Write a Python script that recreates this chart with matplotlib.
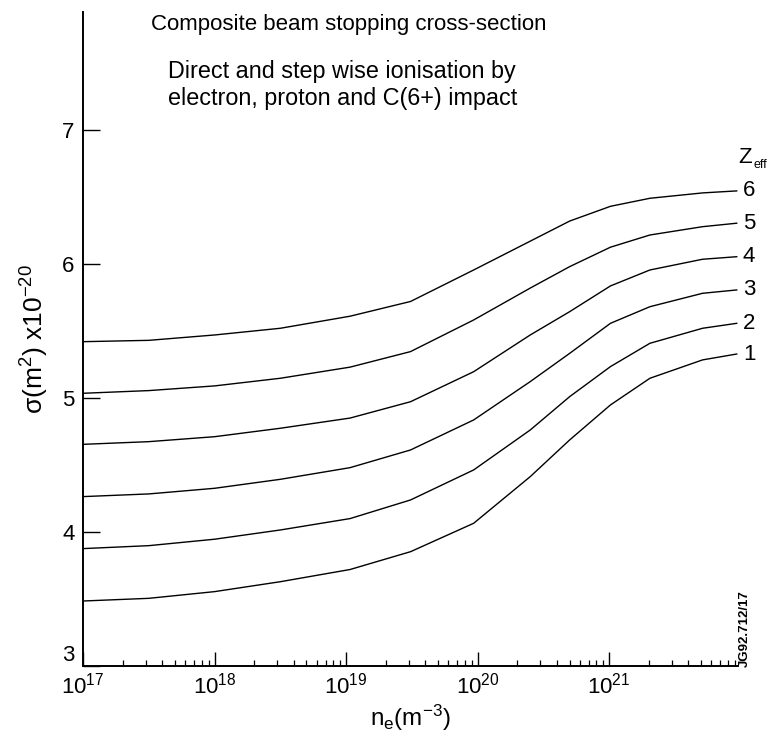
import matplotlib
matplotlib.use('Agg')
import matplotlib.pyplot as plt
import numpy as np
from matplotlib.ticker import LogLocator, NullFormatter

plt.rcParams['font.family'] = ['Liberation Sans', 'DejaVu Sans']
plt.rcParams['mathtext.fontset'] = 'custom'
plt.rcParams['mathtext.rm'] = 'Liberation Sans'
plt.rcParams['mathtext.it'] = 'Liberation Sans:italic'
plt.rcParams['mathtext.bf'] = 'Liberation Sans:bold'

# electron density, log10(m^-3)
log_ne = [17.0, 17.5, 18.0, 18.5, 19.03, 19.49, 19.97, 20.40, 20.70, 21.01, 21.31, 21.71, 21.97]

# stopping cross-section (x1e-20 m^2) for each Zeff
zeff = [6, 5, 4, 3, 2, 1]
sigma_z6 = [5.42, 5.43, 5.47, 5.52, 5.61, 5.72, 5.955, 6.17, 6.32, 6.43, 6.49, 6.53, 6.545]
sigma_z5 = [5.035, 5.055, 5.09, 5.147, 5.23, 5.346, 5.582, 5.82, 5.98, 6.125, 6.216, 6.278, 6.304]
sigma_z4 = [4.654, 4.674, 4.711, 4.774, 4.85, 4.972, 5.196, 5.47, 5.644, 5.836, 5.955, 6.035, 6.054]
sigma_z3 = [4.264, 4.284, 4.326, 4.393, 4.48, 4.612, 4.836, 5.122, 5.333, 5.557, 5.681, 5.781, 5.806]
sigma_z2 = [3.876, 3.898, 3.946, 4.015, 4.10, 4.239, 4.463, 4.761, 5.010, 5.234, 5.408, 5.520, 5.557]
sigma_z1 = [3.485, 3.505, 3.555, 3.629, 3.72, 3.853, 4.065, 4.413, 4.687, 4.948, 5.147, 5.284, 5.328]
curves = [sigma_z6, sigma_z5, sigma_z4, sigma_z3, sigma_z2, sigma_z1]

y_ticks = [3, 4, 5, 6, 7]

fig = plt.figure(figsize=(7.81, 7.49), dpi=100)
ax = fig.add_axes([0.1063, 0.1108, 0.8387, 0.8732])

ne = 10.0 ** np.array(log_ne)
for z, sig in zip(zeff, curves):
    ax.plot(ne, sig, color='black', lw=1.0)
    ax.annotate(str(z), xy=(ne[-1], sig[-1]), xytext=(4.5, 0),
                textcoords='offset points', va='center', ha='left', fontsize=16)

# Zeff header above the curve labels
ax.text(1.0, 0.778, 'Z', transform=ax.transAxes, ha='left', va='center', fontsize=16)
ax.text(1.0235, 0.766, 'eff', transform=ax.transAxes, ha='left', va='center', fontsize=9)

ax.set_xscale('log')
ax.set_xlim(1e17, 10 ** 21.98)
ax.set_ylim(3, 7.88)
ax.set_yticks(y_ticks)
ax.set_yticklabels([str(t) for t in y_ticks])
ax.get_yticklabels()[0].set_va('bottom')

ax.xaxis.set_minor_locator(LogLocator(base=10, subs=np.arange(2, 10), numticks=20))
ax.xaxis.set_minor_formatter(NullFormatter())

for side in ['top', 'right']:
    ax.spines[side].set_visible(False)
for side in ['left', 'bottom']:
    ax.spines[side].set_linewidth(1.4)

ax.tick_params(axis='x', which='major', direction='in', length=10, width=1.0,
               labelsize=16, pad=5)
ax.tick_params(axis='x', which='minor', direction='in', length=4, width=0.9)
ax.tick_params(axis='y', which='major', direction='in', length=12, width=1.0,
               labelsize=16, pad=6)

ax.set_xlabel('n$_\\mathregular{e}$(m$^{\\mathregular{-3}}$)', fontsize=17.5, labelpad=3)
ax.set_ylabel('σ(m$^{\\mathregular{2}}$) x10$^{\\mathregular{-20}}$', fontsize=19, labelpad=8)

fig.text(0.446, 0.967, 'Composite beam stopping cross-section',
         ha='center', va='center', fontsize=16)
fig.text(0.215, 0.904, 'Direct and step wise ionisation by',
         ha='left', va='center', fontsize=16.8)
fig.text(0.215, 0.869, 'electron, proton and C(6+) impact',
         ha='left', va='center', fontsize=16.8)

fig.text(0.954, 0.109, 'JG92.712/17', rotation=90, ha='center', va='bottom',
         fontsize=9.5, fontweight='bold')

fig.savefig('out.png', dpi=100)
